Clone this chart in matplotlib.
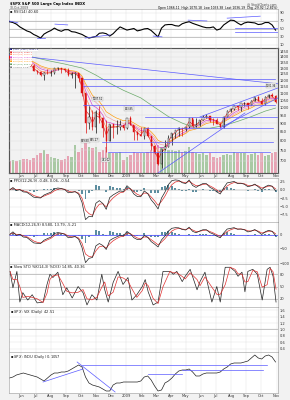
import matplotlib
matplotlib.use("Agg")
import matplotlib.pyplot as plt
import matplotlib.dates as mdates
import numpy as np
import pandas as pd

# weekly bars of $SPX (Friday)
weeks = pd.date_range("2008-05-09", "2009-10-30", freq="W-FRI")
close = [1388, 1425, 1375, 1400, 1361, 1360, 1318, 1278, 1262, 1239,
         1261, 1257, 1260, 1296, 1298, 1292, 1283, 1242, 1252, 1255,
         1213, 1099, 899, 940, 877, 969, 930, 873, 800, 896,
         876, 879, 887, 873, 931, 890, 850, 832, 826, 869,
         827, 770, 735, 683, 756, 768, 816, 843, 857, 870,
         866, 878, 929, 882, 887, 919, 940, 946, 921, 918,
         896, 879, 940, 979, 987, 1010, 1004, 1026, 1029, 1016,
         1042, 1068, 1044, 1025, 1071, 1087, 1080, 1036]
high = [1416, 1426, 1440, 1406, 1404, 1377, 1370, 1333, 1285, 1278,
        1262, 1292, 1284, 1300, 1313, 1300, 1304, 1303, 1266, 1265,
        1256, 1214, 1100, 1006, 985, 984, 1007, 939, 917, 897,
        896, 918, 919, 880, 931, 943, 887, 851, 877, 870,
        876, 828, 779, 740, 758, 804, 832, 845, 857, 875,
        871, 879, 930, 924, 930, 920, 951, 956, 946, 929,
        930, 898, 943, 980, 996, 1018, 1013, 1027, 1039, 1028,
        1048, 1074, 1080, 1064, 1075, 1096, 1101, 1085]
low = [1384, 1384, 1373, 1362, 1360, 1324, 1317, 1278, 1253, 1232,
       1200, 1246, 1234, 1247, 1280, 1261, 1266, 1236, 1217, 1134,
       1187, 1077, 840, 866, 859, 845, 899, 818, 741, 800,
       815, 837, 857, 857, 866, 888, 804, 805, 825, 812,
       818, 754, 734, 680, 667, 751, 769, 779, 814, 826,
       826, 851, 871, 878, 879, 881, 916, 930, 904, 888,
       895, 869, 872, 940, 969, 983, 980, 978, 1008, 991,
       1016, 1040, 1041, 1020, 1019, 1066, 1074, 1029]
first_open = 1413
volume = [3.8, 4.0, 3.6, 3.9, 4.2, 4.3, 4.0, 4.6, 5.5, 6.0,
          7.0, 5.8, 5.0, 4.5, 4.3, 4.0, 4.2, 5.3, 5.0, 8.5,
          6.5, 7.5, 9.5, 8.0, 7.5, 8.0, 6.5, 7.0, 8.0, 6.0,
          6.2, 6.0, 6.5, 4.0, 4.8, 5.5, 6.5, 6.0, 6.2, 6.0,
          6.5, 7.0, 7.5, 8.5, 8.0, 8.2, 7.0, 7.0, 6.8, 7.0,
          6.5, 6.8, 8.0, 6.5, 6.0, 5.8, 6.2, 5.5, 6.0, 5.0,
          4.5, 5.0, 5.5, 5.8, 5.5, 6.5, 6.0, 6.2, 6.0, 5.5,
          5.8, 6.0, 5.5, 6.0, 5.2, 5.5, 6.0, 6.5]
rsi = [68, 66, 62, 55, 50, 45, 42, 36, 32, 27,
       37, 42, 46, 52, 47, 44, 48, 48, 43, 42,
       39, 36, 31, 27, 29, 31, 39, 40, 38, 32,
       38, 47, 55, 51, 47, 49, 51, 45, 47, 50,
       51, 46, 38, 30, 52, 60, 61, 61, 58, 57,
       63, 66, 68, 64, 61, 58, 55, 53, 53, 55,
       47, 50, 60, 66, 72, 71, 65, 60, 65, 67,
       66, 65, 61, 62, 66, 66, 60, 47]
ratio = [0.75, 0.76, 0.78, 0.79, 0.80, 0.79, 0.78, 0.77, 0.76, 0.74,
         0.72, 0.75, 0.78, 0.80, 0.80, 0.81, 0.81, 0.82, 0.84, 0.86,
         0.88, 0.86, 0.76, 0.70, 0.68, 0.67, 0.66, 0.64, 0.62, 0.62,
         0.68, 0.70, 0.70, 0.71, 0.71, 0.71, 0.71, 0.71, 0.72, 0.76,
         0.77, 0.73, 0.67, 0.62, 0.63, 0.70, 0.72, 0.75, 0.79, 0.82,
         0.83, 0.83, 0.84, 0.81, 0.77, 0.77, 0.79, 0.80, 0.80, 0.80,
         0.80, 0.81, 0.84, 0.86, 0.89, 0.90, 0.90, 0.90, 0.91, 0.92,
         0.95, 0.98, 0.95, 0.94, 0.97, 0.98, 0.96, 0.91]

# slow stochastic, read at its turning points
stoch_dates = ["2008-05-10", "2008-05-16", "2008-05-24", "2008-05-30", "2008-06-05",
               "2008-06-15", "2008-06-24", "2008-07-04", "2008-07-16", "2008-07-24",
               "2008-07-30", "2008-08-05", "2008-08-15", "2008-08-25", "2008-09-02",
               "2008-09-13", "2008-09-25", "2008-10-05", "2008-10-13", "2008-10-23",
               "2008-11-02", "2008-11-12", "2008-11-18", "2008-11-25", "2008-12-05",
               "2008-12-15", "2008-12-25", "2009-01-04", "2009-01-12", "2009-01-22",
               "2009-02-02", "2009-02-08", "2009-02-14", "2009-02-24", "2009-03-06",
               "2009-03-16", "2009-03-30", "2009-04-06", "2009-04-13", "2009-04-24",
               "2009-04-30", "2009-05-10", "2009-05-24", "2009-05-30", "2009-06-09",
               "2009-06-23", "2009-07-03", "2009-07-10", "2009-07-20", "2009-07-30",
               "2009-08-09", "2009-08-15", "2009-08-23", "2009-08-29", "2009-09-04",
               "2009-09-14", "2009-09-23", "2009-10-03", "2009-10-13", "2009-10-19",
               "2009-10-25", "2009-10-31"]
stoch = [87, 47, 87, 12, 35, 17, 30, 10, 12, 55,
         80, 72, 85, 30, 47, 22, 50, 35, 5, 30,
         17, 80, 42, 12, 60, 87, 55, 72, 17, 30,
         50, 67, 37, 5, 12, 87, 87, 80, 87, 62,
         75, 92, 42, 62, 85, 12, 50, 12, 97, 97,
         87, 75, 85, 37, 87, 92, 80, 17, 92, 97,
         75, 12]

# 200-day moving average, read monthly
ma200_dates = ["2008-05-09", "2008-06-06", "2008-07-03", "2008-08-01", "2008-08-29",
               "2008-10-03", "2008-10-31", "2008-11-28", "2008-12-26", "2009-01-30",
               "2009-02-27", "2009-03-27", "2009-04-24", "2009-05-22", "2009-06-19",
               "2009-07-17", "2009-08-14", "2009-09-11", "2009-10-09", "2009-10-30"]
ma200 = [1440, 1420, 1390, 1360, 1335, 1300, 1240, 1175, 1120, 1065,
         1000, 940, 900, 870, 870, 885, 910, 940, 975, 995]

# hand-drawn trend lines: ((date, value), (date, value))
price_lines = [(("2008-05-08", 1419), ("2009-11-04", 1170)),
               (("2008-10-05", 1206), ("2009-10-29", 1206)),
               (("2008-10-05", 1150), ("2009-10-29", 1150)),
               (("2008-10-05", 1016), ("2009-10-29", 1016)),
               (("2009-02-08", 940), ("2009-11-02", 940)),
               (("2009-02-08", 873), ("2009-10-25", 873)),
               (("2008-11-12", 795), ("2009-10-25", 795)),
               (("2008-11-25", 744), ("2009-10-19", 744)),
               (("2009-03-06", 645), ("2009-08-29", 963)),
               (("2009-05-30", 938), ("2009-11-04", 1138)),
               (("2009-07-10", 872), ("2009-11-04", 1065))]
price_notes = [("2008-11-04", 1007.51), ("2008-10-10", 839.80), ("2008-10-27", 845.27),
               ("2009-01-06", 943.85), ("2008-11-20", 741.02), ("2009-10-21", 1101.36)]
rsi_lines = [(("2008-05-08", 70), ("2008-05-26", 65)),
             (("2008-07-04", 27), ("2008-07-20", 27)),
             (("2008-08-09", 62), ("2008-09-04", 60)),
             (("2008-10-09", 27), ("2008-11-29", 35)),
             (("2009-02-24", 32), ("2009-03-14", 30)),
             (("2009-05-06", 72), ("2009-06-13", 70)),
             (("2009-07-24", 77), ("2009-09-29", 82)),
             (("2009-08-09", 52), ("2009-11-23", 52)),
             (("2009-08-09", 42), ("2009-11-23", 42))]
ratio_lines = [(("2008-07-16", 0.71), ("2008-10-05", 0.84)),
               (("2008-09-23", 0.91), ("2008-12-09", 0.61)),
               (("2008-10-03", 0.88), ("2009-10-13", 0.88)),
               (("2009-02-14", 0.79), ("2009-04-24", 0.79)),
               (("2009-04-24", 0.83), ("2009-10-04", 0.83))]

ema_spans = [2, 4, 6, 8, 10]          # weekly spans ~ 10..50 day
ema_colors = ["#e02020", "#ff7f50", "#d040d0", "#f4a0a0", "#ff9900"]

x0, x1 = mdates.date2num(pd.Timestamp("2008-05-08")), mdates.date2num(pd.Timestamp("2009-11-04"))
wx = mdates.date2num(weeks.to_pydatetime())
BLUE = "#5a5aff"
FS = 2.6

cs = pd.Series(close, index=weeks, dtype=float)
opens = np.r_[first_open, close[:-1]]
up = np.array(close) >= opens


def ema(s, span):
    return s.ewm(span=span, adjust=False).mean()


def dnum(d):
    return mdates.date2num(pd.Timestamp(d))


def month_label(v, _):
    d = mdates.num2date(v)
    return "2009" if d.month == 1 else d.strftime("%b")


def style(ax, yticks=None, dates=False):
    ax.set_facecolor("white")
    ax.set_xlim(x0, x1)
    ax.yaxis.tick_right()
    ax.tick_params(axis="y", labelsize=FS, length=0, pad=1, colors="#333333")
    ax.tick_params(axis="x", labelsize=FS, length=0, pad=1, colors="#333333",
                   labelbottom=dates)
    if yticks is not None:
        ax.set_yticks(yticks)
    ax.xaxis.set_major_locator(mdates.MonthLocator())
    ax.xaxis.set_major_formatter(plt.FuncFormatter(month_label))
    ax.grid(True, color="#dedede", lw=0.3)
    ax.set_axisbelow(True)
    for s in ax.spines.values():
        s.set_color("#9a9a9a")
        s.set_linewidth(0.4)


def draw_lines(ax, lines):
    for (d1, v1), (d2, v2) in lines:
        ax.plot([dnum(d1), dnum(d2)], [v1, v2], color=BLUE, lw=0.5, zorder=4)


def title(ax, txt, color="#222222"):
    ax.text(0.005, 0.97, txt, transform=ax.transAxes, fontsize=FS, va="top", color=color)


fig = plt.figure(figsize=(2.9, 4.0), dpi=100)
fig.patch.set_facecolor("#f2f2f2")
L, W = 9 / 290, 269 / 290


def rect(top, bottom):
    return [L, 1 - bottom / 400, W, (bottom - top) / 400]


def panel(top, bottom):
    return fig.add_axes(rect(top, bottom))


# header
fig.text(0.035, 0.994, "$SPX S&P 500 Large Cap Index INDX", fontsize=2.6, va="top", weight="bold")
fig.text(0.035, 0.984, "30-Oct-2009", fontsize=2.2, va="top", color="#444444")
fig.text(0.955, 0.994, "@ StockCharts.com", fontsize=2.2, va="top", ha="right", color="#444444")
fig.text(0.955, 0.984, "Open 1066.11  High 1070.18  Low 1033.38  Last 1036.19  Chg -29.92 (-2.81%)",
         fontsize=2.2, va="top", ha="right")

# RSI pane: frame and guides, then the line on a clean overlay
ax_rsi = panel(9, 48)
style(ax_rsi, [10, 30, 50, 70, 90])
ax_rsi.set_ylim(2, 100)
for lvl in (30, 50, 70):
    ax_rsi.axhline(lvl, color="#b0b0b0", lw=0.5)
title(ax_rsi, "\u25aa RSI(14) 40.60")
ax_line = fig.add_axes(rect(9, 48))
ax_line.set_xlim(x0, x1)
ax_line.set_ylim(2, 100)
ax_line.plot(wx, np.asarray(rsi, float), color="black", lw=0.8)
draw_lines(ax_line, rsi_lines)
ax_line.axis("off")

# price + volume
ax = panel(48, 173)
axv = ax.twinx()
axv.bar(wx, volume, width=5, color=np.where(up, "#a9c9a4", "#e7a3b4"), lw=0)
axv.set_ylim(0, 38)
axv.set_yticks([])
axv.set_xlim(x0, x1)
ax.set_zorder(axv.get_zorder() + 1)
ax.set_yscale("log")
ax.set_ylim(645, 1486)
style(ax, None, dates=True)
ticks = list(range(700, 1500, 50))
ax.set_yticks(ticks)
ax.set_yticklabels([str(t) for t in ticks])
ax.yaxis.set_minor_locator(plt.NullLocator())
ax.patch.set_visible(False)
for span, c in zip(ema_spans, ema_colors):
    ax.plot(wx, ema(cs, span).to_numpy(), color=c, lw=0.45)
ax.plot([dnum(d) for d in ma200_dates], ma200, color="#6aaa6a", lw=0.5)
ax.vlines(wx, low, high, colors=np.where(up, "#111111", "#dd1111"), lw=0.5, zorder=3)
ax.bar(wx, np.abs(np.array(close) - opens), bottom=np.minimum(close, opens), width=2.5,
       color=np.where(up, "white", "#dd1111"), edgecolor=np.where(up, "#111111", "#dd1111"),
       lw=0.3, zorder=3)
draw_lines(ax, price_lines)
for d, v in price_notes:
    off = 1.05 if v > 1000 or d in ("2008-11-04", "2009-01-06") else 0.95
    ax.text(dnum(d), v * off, f"{v:.2f}", fontsize=1.8, ha="center", va="center",
            bbox=dict(boxstyle="square,pad=0.1", fc="#eeeeee", ec="#999999", lw=0.2), zorder=5)
legend = ["$SPX (Daily) 1036.19", "EMA(10) 1066.7", "EMA(20) 1070.3", "EMA(30) 1063.0",
          "EMA(40) 1053.7", "EMA(50) 1044.6", "MA(200) 995.4", "Volume 6.5B"]
lcolors = ["#1a1a80"] + ema_colors + ["#5a9a5a", "#777777"]
for i, (t, c) in enumerate(zip(legend, lcolors)):
    ax.text(0.004, 0.99 - i * 0.0195, "\u25a0 " + t, transform=ax.transAxes, fontsize=1.7,
            color=c, va="top", zorder=6, bbox=dict(fc="white", ec="none", pad=0.05))

# PPO-style fast MACD
ax = panel(178, 222)
m1 = 100 * (ema(cs, 2.4) - ema(cs, 5.2)) / ema(cs, 5.2)
s1 = ema(m1, 2.6)
lo = m1.min() * 1.08
ax.set_ylim(lo, -lo * 0.37)
style(ax, None)
ax.bar(wx, (m1 - s1).to_numpy(), width=4, color="#5d8ea0", lw=0)
ax.axhline(0, color="#999999", lw=0.3)
ax.plot(wx, s1.to_numpy(), color="#e03030", lw=0.5)
ax.plot(wx, m1.to_numpy(), color="#222222", lw=0.5)
title(ax, "\u25aa PPO(12,26,9) -0.48, 0.06, -0.54")

# MACD
ax = panel(222, 264)
m2 = ema(cs, 2.4) - ema(cs, 5.2)
s2 = ema(m2, 2.6)
lo = m2.min() * 1.05
ax.set_ylim(lo, max(-lo * 0.43, m2.max() * 1.15))
style(ax, None)
ax.bar(wx, (m2 - s2).to_numpy(), width=4, color="#5d8ea0", lw=0)
ax.axhline(0, color=BLUE, lw=0.6)
ax.plot(wx, s2.to_numpy(), color="#e03030", lw=0.5)
ax.plot(wx, m2.to_numpy(), color="#222222", lw=0.5)
title(ax, "\u25aa MACD(12,26,9) 8.580, 13.79, -5.21")

# slow stochastic
ax = panel(264, 307)
style(ax, [20, 50, 80])
ax.set_ylim(0, 105)
for lvl in (20, 50, 80):
    ax.axhline(lvl, color="#b0b0b0", lw=0.5)
sd = [dnum(d) for d in stoch_dates]
ax.plot(sd, stoch, color="#222222", lw=0.5)
ax.plot(sd, pd.Series(stoch).rolling(2, min_periods=1).mean().to_numpy(), color="#e03030", lw=0.5)
title(ax, "\u25aa Slow STO %K(14,3) %D(3) 14.85, 40.36")

# empty ratio pane
ax = panel(307, 352)
style(ax, [0.4, 0.6, 0.8, 1.0, 1.2, 1.4, 1.6])
ax.set_ylim(0.3, 1.7)
ax.axhline(1.0, color="#b0b0b0", lw=0.5)
title(ax, "\u25aa $SPX:$VIX (Daily) 42.51")

# relative line
ax = panel(352, 393)
style(ax, [], dates=True)
ax.set_ylim(0.60, 1.01)
ax.plot(wx, ratio, color="#222222", lw=0.5)
draw_lines(ax, ratio_lines)
title(ax, "\u25aa $SPX:$INDU (Daily) 0.1057")

fig.savefig("out.png", dpi=100, facecolor=fig.get_facecolor())
